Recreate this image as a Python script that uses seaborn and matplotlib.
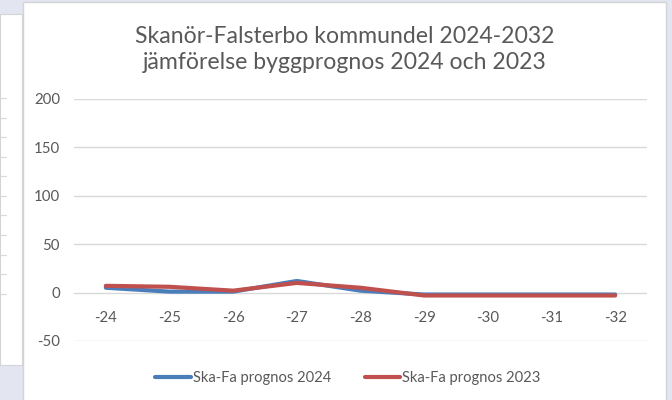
import matplotlib
matplotlib.use("Agg")
import matplotlib.pyplot as plt
from matplotlib.patches import Rectangle
from matplotlib.lines import Line2D
import seaborn as sns
import pandas as pd

categories = ["-24", "-25", "-26", "-27", "-28", "-29", "-30", "-31", "-32"]
prognos_2024 = [5, 1, 1, 12, 2, -2, -2, -2, -2]
prognos_2023 = [7, 6, 2, 10, 5, -3, -3, -3, -3]
series_names = ["Ska-Fa prognos 2024", "Ska-Fa prognos 2023"]
yticks = [-50, 0, 50, 100, 150, 200]
title = "Skanör-Falsterbo kommundel 2024-2032\njämförelse byggprognos 2024 och 2023"

df = pd.DataFrame({
    "kategori": categories * 2,
    "värde": prognos_2024 + prognos_2023,
    "serie": [series_names[0]] * len(categories) + [series_names[1]] * len(categories),
})

sns.set_theme(style="white")
plt.rcParams["font.family"] = ["Lato", "DejaVu Sans"]

W, H = 672, 400
fig = plt.figure(figsize=(W / 100, H / 100), dpi=100)
fig.patch.set_facecolor("#E3E6F1")

# left partial panel
fig.add_artist(Rectangle((0, 1 - 365 / H), 22 / W, (365 - 14) / H, transform=fig.transFigure,
                         facecolor="white", edgecolor="#D4D4D4", linewidth=0.8, zorder=0))
for py in [98, 118, 137, 157, 176, 196, 215, 235, 255, 274, 294]:
    fig.add_artist(Line2D([0, 6 / W], [1 - py / H, 1 - py / H], transform=fig.transFigure,
                          color="#D9D9D9", linewidth=0.9, zorder=1))

# main panel
fig.add_artist(Rectangle((23 / W, -0.01), (666 - 23) / W, (H - 2) / H + 0.01, transform=fig.transFigure,
                         facecolor="white", edgecolor="#D4D4D4", linewidth=1.0, zorder=0))

ax = fig.add_axes([74 / W, 1 - 341 / H, (647 - 74) / W, (341 - 99) / H])
ax.set_facecolor("none")

palette = {series_names[0]: "#4A7EBB", series_names[1]: "#C0504D"}
sns.lineplot(data=df, x="kategori", y="värde", hue="serie", palette=palette,
             linewidth=3.0, sort=False, ax=ax, legend=False)

ax.set_xlim(-0.5, len(categories) - 0.5)
ax.set_ylim(-50, 200)
ax.set_yticks(yticks)
ax.set_yticklabels([str(v) for v in yticks])
ax.yaxis.grid(True, color="#D9D9D9", linewidth=1.0)
ax.set_axisbelow(True)
for s in ax.spines.values():
    s.set_visible(False)
ax.spines["bottom"].set_position(("data", 0))
ax.tick_params(axis="x", length=0, pad=13, labelsize=10.8, labelcolor="#595959")
ax.tick_params(axis="y", length=0, pad=10, labelsize=10.8, labelcolor="#595959")
ax.set_xlabel("")
ax.set_ylabel("")

fig.text(345 / W, 1 - 49.5 / H, title, ha="center", va="center", fontsize=16.6,
         color="#595959", linespacing=1.28)

handles = [Line2D([], [], color=palette[n], linewidth=3.0, solid_capstyle="round") for n in series_names]
fig.legend(handles, series_names, loc="center", bbox_to_anchor=(348 / W, 1 - 378 / H),
           ncol=2, frameon=False, fontsize=10.6, handlelength=2.4, handletextpad=0.15,
           columnspacing=2.3, labelcolor="#595959")

fig.savefig("out.png", dpi=100, facecolor=fig.get_facecolor())
